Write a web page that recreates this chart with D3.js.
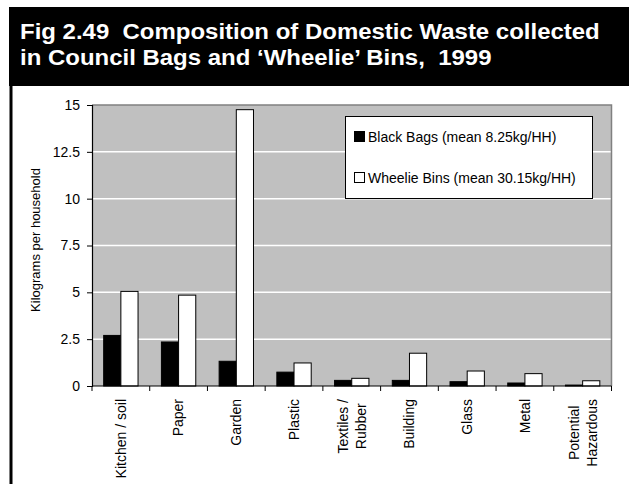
<!DOCTYPE html>
<html>
<head>
<meta charset="utf-8">
<script src="https://cdn.jsdelivr.net/npm/d3@7"></script>
<style>
  html, body { margin: 0; padding: 0; background: #fff; }
  svg { display: block; font-family: "Liberation Sans", Arial, sans-serif; }
</style>
</head>
<body>
<svg id="chart" width="629" height="484"></svg>
<script>
// Waste composition per household, 1999 (kg)
const categories = ["Kitchen / soil", "Paper", "Garden", "Plastic", "Textiles /\nRubber",
                    "Building", "Glass", "Metal", "Potential\nHazardous"];
const blackBags   = [2.70, 2.35, 1.32, 0.74, 0.30, 0.30, 0.23, 0.16, 0.05];
const wheelieBins = [5.05, 4.85, 14.75, 1.23, 0.41, 1.75, 0.80, 0.66, 0.28];
const seriesNames = ["Black Bags (mean 8.25kg/HH)", "Wheelie Bins (mean 30.15kg/HH)"];
const seriesFill  = ["#000000", "#ffffff"];
const yTicks = [0, 2.5, 5, 7.5, 10, 12.5, 15];
const titleLines = ["Fig 2.49  Composition of Domestic Waste collected",
                    "in Council Bags and \u2018Wheelie\u2019 Bins,  1999"];
const yAxisTitle = "Kilograms per household";

const svg = d3.select("#chart");

// Title banner and left frame rule
svg.append("rect").attr("x", 9).attr("y", 7).attr("width", 620).attr("height", 79).attr("fill", "#000");
svg.append("rect").attr("x", 9.5).attr("y", 86).attr("width", 3).attr("height", 398).attr("fill", "#000");
const title = svg.append("g").attr("fill", "#fff").attr("font-weight", "bold").attr("font-size", 22);
title.selectAll("text").data(titleLines).join("text")
  .attr("x", 20).attr("y", (d, i) => 39 + i * 26.5)
  .attr("transform", "translate(20,0) scale(1.09,1) translate(-20,0)")
  .style("white-space", "pre")
  .text(d => d);

// Plot geometry
const plot = { left: 92, right: 611.5, top: 105, bottom: 386 };

const x = d3.scaleBand().domain(categories).range([plot.left, plot.right]).paddingInner(0).paddingOuter(0);
const xs = d3.scaleBand().domain([0, 1]).range([0, x.bandwidth()]).paddingOuter(0.68).paddingInner(0);
const y = d3.scaleLinear().domain([0, 15]).range([plot.bottom, plot.top]);

// Plot background
svg.append("rect")
  .attr("x", plot.left).attr("y", plot.top)
  .attr("width", plot.right - plot.left).attr("height", plot.bottom - plot.top)
  .attr("fill", "#c0c0c0");

// Horizontal grid lines
svg.append("g").selectAll("line").data(yTicks.filter(t => t > 0 && t < 15)).join("line")
  .attr("x1", plot.left).attr("x2", plot.right)
  .attr("y1", d => y(d)).attr("y2", d => y(d))
  .attr("stroke", "#fff").attr("stroke-width", 1.5);

// Plot frame on top and right
svg.append("path")
  .attr("d", `M${plot.left},${plot.top}H${plot.right}V${plot.bottom}`)
  .attr("fill", "none").attr("stroke", "#808080").attr("stroke-width", 1.5);

// Bars
const series = [blackBags, wheelieBins];
const groups = svg.append("g").selectAll("g").data(categories).join("g")
  .attr("transform", d => `translate(${x(d)},0)`);
groups.selectAll("rect").data((d, i) => series.map((s, k) => ({ k, v: s[i] }))).join("rect")
  .attr("x", d => xs(d.k))
  .attr("width", xs.bandwidth())
  .attr("y", d => y(d.v))
  .attr("height", d => y(0) - y(d.v))
  .attr("fill", d => seriesFill[d.k])
  .attr("stroke", "#000").attr("stroke-width", 1);

// Y axis
const yAxis = svg.append("g").attr("transform", `translate(${plot.left},0)`)
  .call(d3.axisLeft(y).tickValues(yTicks).tickSize(5).tickPadding(7).tickFormat(d3.format("")));
yAxis.select(".domain").attr("stroke", "#000").attr("stroke-width", 1.2);
yAxis.selectAll(".tick line").attr("stroke", "#000");
yAxis.selectAll(".tick text").attr("font-size", 14).attr("fill", "#000")
  .attr("font-family", "'Liberation Sans', Arial, sans-serif");

svg.append("text")
  .attr("transform", "translate(40,240) rotate(-90)")
  .attr("text-anchor", "middle").attr("font-size", 13).attr("fill", "#000")
  .text(yAxisTitle);

// X axis: ticks at category boundaries
const xAxis = svg.append("g").attr("transform", `translate(0,${plot.bottom})`);
xAxis.append("line").attr("x1", plot.left).attr("x2", plot.right).attr("stroke", "#000").attr("stroke-width", 1.2);
const bounds = categories.map(c => x(c)).concat([plot.right]);
xAxis.selectAll("line.tk").data(bounds).join("line").attr("class", "tk")
  .attr("x1", d => d).attr("x2", d => d).attr("y1", 0).attr("y2", 5)
  .attr("stroke", "#000");

// Rotated category labels, lines centred within each label block
const labelTop = 399;
const lineGap = 18;
const lbl = svg.append("g").attr("font-size", 14).attr("fill", "#000");
categories.forEach(c => {
  const lines = c.split("\n");
  const cx = x(c) + x.bandwidth() / 2;
  const g = lbl.append("g");
  const texts = lines.map((t, i) => g.append("text").attr("text-anchor", "middle").text(t));
  const maxW = d3.max(texts, t => t.node().getComputedTextLength());
  const cy = labelTop + maxW / 2;
  texts.forEach((t, i) => {
    const lx = cx + (i - (lines.length - 1) / 2) * lineGap;
    t.attr("transform", `translate(${lx},${cy}) rotate(-90)`).attr("dy", "0.35em");
  });
});

// Legend
const lg = svg.append("g");
lg.append("rect").attr("x", 345.5).attr("y", 116.5).attr("width", 247).attr("height", 82)
  .attr("fill", "#fff").attr("stroke", "#000").attr("stroke-width", 1);
seriesNames.forEach((name, i) => {
  const cy = 137 + i * 41;
  lg.append("rect").attr("x", 354.5).attr("y", cy - 5.5).attr("width", 10).attr("height", 10)
    .attr("fill", seriesFill[i]).attr("stroke", "#000").attr("stroke-width", 1);
  lg.append("text").attr("x", 368).attr("y", cy).attr("dy", "0.35em")
    .attr("font-size", 14).attr("fill", "#000").text(name);
});
</script>
</body>
</html>
